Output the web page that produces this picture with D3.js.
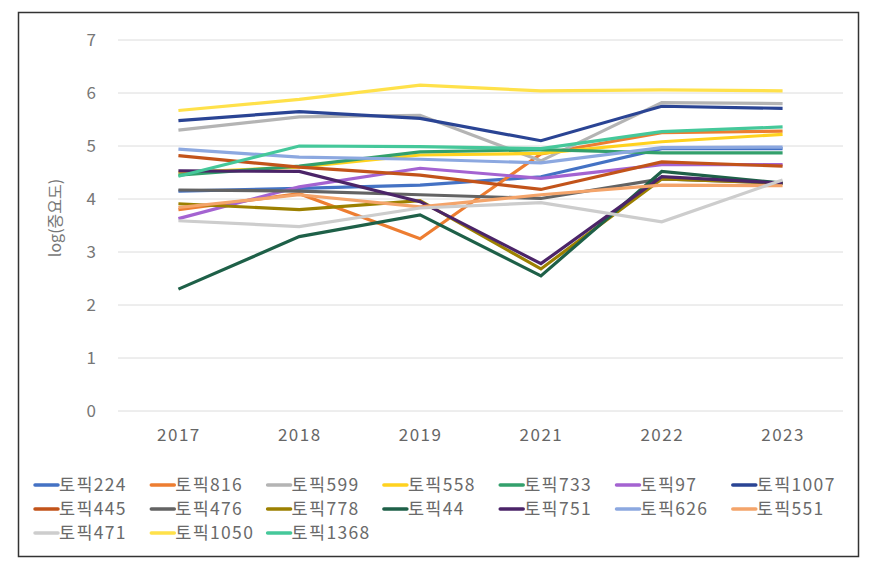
<!DOCTYPE html>
<html><head><meta charset="utf-8">
<script src="https://cdn.jsdelivr.net/npm/d3@7"></script>
<style>
html,body{margin:0;padding:0;background:#fff;}
svg{display:block;font-family:"Noto Sans CJK KR","Noto Sans",sans-serif;}
</style></head>
<body>
<svg id="chart" width="877" height="567"></svg>
<script>
const years = ["2017","2018","2019","2021","2022","2023"];
const yTicks = [0,1,2,3,4,5,6,7];
const yLabel = "log(중요도)";

const seriesNames = ["토픽224","토픽816","토픽599","토픽558","토픽733","토픽97","토픽1007",
  "토픽445","토픽476","토픽778","토픽44","토픽751","토픽626","토픽551",
  "토픽471","토픽1050","토픽1368"];
const seriesColors = ["#4472C4","#ED7D31","#B4B4B4","#FFD21F","#33A06C","#A463D1","#2A4494",
  "#C2531A","#636363","#9C8000","#1E6048","#4B2468","#8CA8E0","#F4A46A",
  "#CDCDCD","#FFE14A","#45C89A"];

const s224  = [4.15, 4.20, 4.26, 4.42, 4.95, 4.95];
const s816  = [3.80, 4.10, 3.25, 4.85, 5.25, 5.28];
const s599  = [5.30, 5.55, 5.58, 4.72, 5.82, 5.80];
const s558  = [4.50, 4.60, 4.83, 4.86, 5.08, 5.22];
const s733  = [4.45, 4.62, 4.89, 4.93, 4.87, 4.87];
const s97   = [3.63, 4.23, 4.58, 4.39, 4.65, 4.65];
const s1007 = [5.48, 5.65, 5.52, 5.10, 5.75, 5.71];
const s445  = [4.82, 4.60, 4.45, 4.18, 4.70, 4.62];
const s476  = [4.17, 4.15, 4.08, 4.01, 4.38, 4.30];
const s778  = [3.91, 3.80, 3.97, 2.68, 4.38, 4.30];
const s44   = [2.30, 3.29, 3.70, 2.55, 4.52, 4.30];
const s751  = [4.53, 4.52, 3.95, 2.78, 4.42, 4.30];
const s626  = [4.94, 4.79, 4.75, 4.68, 4.97, 4.98];
const s551  = [3.84, 4.08, 3.85, 4.08, 4.26, 4.25];
const s471  = [3.59, 3.48, 3.83, 3.93, 3.57, 4.36];
const s1050 = [5.67, 5.88, 6.15, 6.04, 6.06, 6.04];
const s1368 = [4.43, 5.00, 4.99, 4.95, 5.27, 5.36];

const seriesValues = [s224,s816,s599,s558,s733,s97,s1007,s445,s476,s778,s44,s751,s626,s551,s471,s1050,s1368];

const svg = d3.select("#chart");
// frame
svg.append("rect").attr("x",18.5).attr("y",12.5).attr("width",840).attr("height",544)
  .attr("fill","#fff").attr("stroke","#333").attr("stroke-width",1.5);

const pLeft = 118, pRight = 843, pTop = 40, pBottom = 411;
const x = d3.scalePoint().domain(years).range([pLeft, pRight]).padding(0.5);
const y = d3.scaleLinear().domain([0,7]).range([pBottom, pTop]);

// gridlines
svg.append("g").selectAll("line").data(yTicks).join("line")
  .attr("x1",pLeft).attr("x2",pRight)
  .attr("y1",d=>y(d)).attr("y2",d=>y(d))
  .attr("stroke","#dcdcdc").attr("stroke-width",1);

// y axis labels
const yAxis = d3.axisLeft(y).tickValues(yTicks).tickFormat(d3.format("d")).tickSize(0).tickPadding(0);
const gy = svg.append("g").attr("transform","translate(96,0)").call(yAxis);
gy.select(".domain").remove();
gy.selectAll("text").attr("fill","#777").style("font-size","17px").attr("dy","0.35em")
  .style("font-family","'Noto Sans CJK KR',sans-serif");

// x axis labels
const xAxis = d3.axisBottom(x).tickSize(0).tickPadding(0);
const gx = svg.append("g").attr("transform","translate(0,431)").call(xAxis);
gx.select(".domain").remove();
gx.selectAll("text").attr("fill","#666").style("font-size","17px").attr("dy","0.6em")
  .style("letter-spacing","1.5px")
  .style("font-family","'Noto Sans CJK KR',sans-serif");

// y label
svg.append("text").attr("transform","translate(55,218) rotate(-90)")
  .attr("text-anchor","middle").attr("dy","0.35em")
  .attr("fill","#777").style("font-size","16px").text(yLabel);

// lines
const line = d3.line().x((d,i)=>x(years[i])).y(d=>y(d));
svg.append("g").selectAll("path").data(seriesValues).join("path")
  .attr("d", d=>line(d)).attr("fill","none")
  .attr("stroke",(d,i)=>seriesColors[i]).attr("stroke-width",3.2)
  .attr("stroke-linejoin","miter").attr("stroke-linecap","butt");

// legend
const perRow = 7;
const lg = svg.append("g");
const items = lg.selectAll("g").data(seriesNames).join("g")
  .attr("transform",(d,i)=>{
    const c = i % perRow, r = Math.floor(i / perRow);
    return `translate(${35 + c*116.3},${485 + r*24})`;
  });
items.append("line").attr("x1",0).attr("x2",23).attr("y1",0).attr("y2",0)
  .attr("stroke",(d,i)=>seriesColors[i]).attr("stroke-width",3.5).attr("stroke-linecap","round");
items.append("text").attr("x",24).attr("dy","0.35em").attr("fill","#6a6a6a")
  .style("font-size","17.5px").style("letter-spacing","1.3px").text(d=>d);
</script>
</body></html>
